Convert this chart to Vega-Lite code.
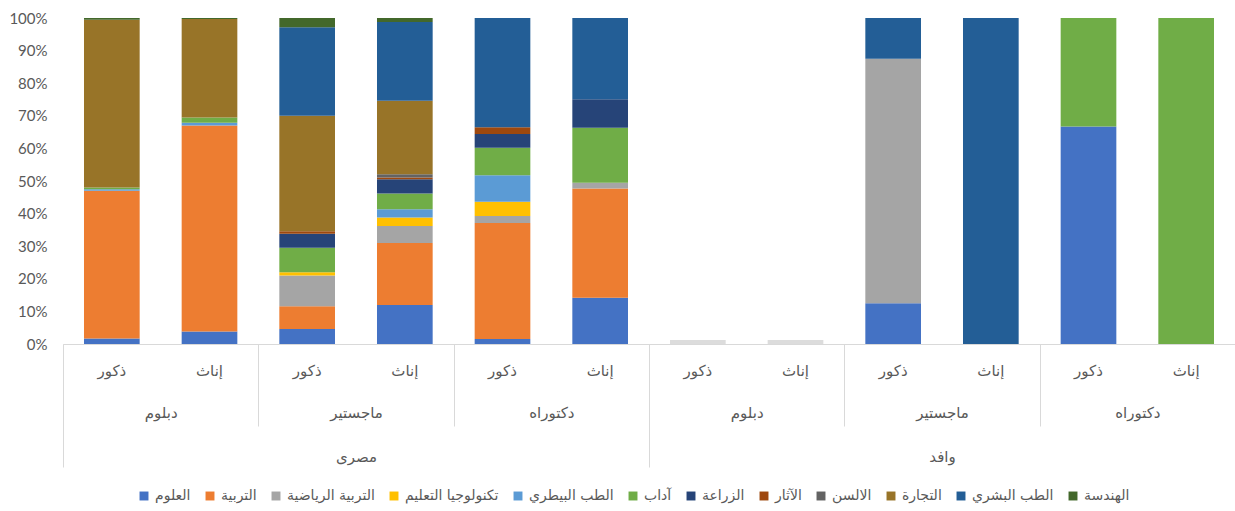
{
  "$schema": "https://vega.github.io/schema/vega-lite/v6.json",
  "width": 1172,
  "height": 326,
  "autosize": {"type": "none"},
  "padding": {"left": 63, "top": 18, "right": 0, "bottom": 167},
  "background": "white",
  "config": {"view": {"stroke": null}, "font": "DejaVu Sans"},
  "datasets": {
    "faculties": [
      {"f": "العلوم", "o": 1}, {"f": "التربية", "o": 2}, {"f": "التربية الرياضية", "o": 3},
      {"f": "تكنولوجيا التعليم", "o": 4}, {"f": "الطب البيطري", "o": 5}, {"f": "آداب", "o": 6},
      {"f": "الزراعة", "o": 7}, {"f": "الآثار", "o": 8}, {"f": "الالسن", "o": 9},
      {"f": "التجارة", "o": 10}, {"f": "الطب البشري", "o": 11}, {"f": "الهندسة", "o": 12}
    ]
  },
  "layer": [
    {
      "data": {"values": [
        {"col": "مصرى|دبلوم|ذكور", "f": "العلوم", "v": 1.7},
        {"col": "مصرى|دبلوم|ذكور", "f": "التربية", "v": 45.3},
        {"col": "مصرى|دبلوم|ذكور", "f": "الطب البيطري", "v": 0.5},
        {"col": "مصرى|دبلوم|ذكور", "f": "آداب", "v": 0.5},
        {"col": "مصرى|دبلوم|ذكور", "f": "التجارة", "v": 51.5},
        {"col": "مصرى|دبلوم|ذكور", "f": "الهندسة", "v": 0.5},
        {"col": "مصرى|دبلوم|إناث", "f": "العلوم", "v": 3.8},
        {"col": "مصرى|دبلوم|إناث", "f": "التربية", "v": 63.2},
        {"col": "مصرى|دبلوم|إناث", "f": "الطب البيطري", "v": 0.9},
        {"col": "مصرى|دبلوم|إناث", "f": "آداب", "v": 1.6},
        {"col": "مصرى|دبلوم|إناث", "f": "التجارة", "v": 30.2},
        {"col": "مصرى|دبلوم|إناث", "f": "الهندسة", "v": 0.3},
        {"col": "مصرى|ماجستير|ذكور", "f": "العلوم", "v": 4.6},
        {"col": "مصرى|ماجستير|ذكور", "f": "التربية", "v": 7.0},
        {"col": "مصرى|ماجستير|ذكور", "f": "التربية الرياضية", "v": 9.4},
        {"col": "مصرى|ماجستير|ذكور", "f": "تكنولوجيا التعليم", "v": 1.0},
        {"col": "مصرى|ماجستير|ذكور", "f": "آداب", "v": 7.5},
        {"col": "مصرى|ماجستير|ذكور", "f": "الزراعة", "v": 4.3},
        {"col": "مصرى|ماجستير|ذكور", "f": "الآثار", "v": 0.8},
        {"col": "مصرى|ماجستير|ذكور", "f": "التجارة", "v": 35.4},
        {"col": "مصرى|ماجستير|ذكور", "f": "الطب البشري", "v": 27.2},
        {"col": "مصرى|ماجستير|ذكور", "f": "الهندسة", "v": 2.8},
        {"col": "مصرى|ماجستير|إناث", "f": "العلوم", "v": 12.0},
        {"col": "مصرى|ماجستير|إناث", "f": "التربية", "v": 19.0},
        {"col": "مصرى|ماجستير|إناث", "f": "التربية الرياضية", "v": 5.2},
        {"col": "مصرى|ماجستير|إناث", "f": "تكنولوجيا التعليم", "v": 2.6},
        {"col": "مصرى|ماجستير|إناث", "f": "الطب البيطري", "v": 2.5},
        {"col": "مصرى|ماجستير|إناث", "f": "آداب", "v": 4.9},
        {"col": "مصرى|ماجستير|إناث", "f": "الزراعة", "v": 4.3},
        {"col": "مصرى|ماجستير|إناث", "f": "الآثار", "v": 0.6},
        {"col": "مصرى|ماجستير|إناث", "f": "الالسن", "v": 1.0},
        {"col": "مصرى|ماجستير|إناث", "f": "التجارة", "v": 22.5},
        {"col": "مصرى|ماجستير|إناث", "f": "الطب البشري", "v": 24.2},
        {"col": "مصرى|ماجستير|إناث", "f": "الهندسة", "v": 1.2},
        {"col": "مصرى|دكتوراه|ذكور", "f": "العلوم", "v": 1.5},
        {"col": "مصرى|دكتوراه|ذكور", "f": "التربية", "v": 35.6},
        {"col": "مصرى|دكتوراه|ذكور", "f": "التربية الرياضية", "v": 2.2},
        {"col": "مصرى|دكتوراه|ذكور", "f": "تكنولوجيا التعليم", "v": 4.3},
        {"col": "مصرى|دكتوراه|ذكور", "f": "الطب البيطري", "v": 8.2},
        {"col": "مصرى|دكتوراه|ذكور", "f": "آداب", "v": 8.4},
        {"col": "مصرى|دكتوراه|ذكور", "f": "الزراعة", "v": 4.2},
        {"col": "مصرى|دكتوراه|ذكور", "f": "الآثار", "v": 2.1},
        {"col": "مصرى|دكتوراه|ذكور", "f": "الطب البشري", "v": 33.5},
        {"col": "مصرى|دكتوراه|إناث", "f": "العلوم", "v": 14.2},
        {"col": "مصرى|دكتوراه|إناث", "f": "التربية", "v": 33.5},
        {"col": "مصرى|دكتوراه|إناث", "f": "التربية الرياضية", "v": 1.8},
        {"col": "مصرى|دكتوراه|إناث", "f": "آداب", "v": 16.8},
        {"col": "مصرى|دكتوراه|إناث", "f": "الزراعة", "v": 8.8},
        {"col": "مصرى|دكتوراه|إناث", "f": "الطب البشري", "v": 24.9},
        {"col": "وافد|ماجستير|ذكور", "f": "العلوم", "v": 12.5},
        {"col": "وافد|ماجستير|ذكور", "f": "التربية الرياضية", "v": 75.0},
        {"col": "وافد|ماجستير|ذكور", "f": "الطب البشري", "v": 12.5},
        {"col": "وافد|ماجستير|إناث", "f": "الطب البشري", "v": 100},
        {"col": "وافد|دكتوراه|ذكور", "f": "العلوم", "v": 66.7},
        {"col": "وافد|دكتوراه|ذكور", "f": "آداب", "v": 33.3},
        {"col": "وافد|دكتوراه|إناث", "f": "آداب", "v": 100}
      ]},
      "layer": [
        {
          "transform": [
            {"lookup": "f", "from": {"data": {"name": "faculties"}, "key": "f", "fields": ["o"]}}
          ],
          "mark": {"type": "bar"},
          "encoding": {
            "x": {
              "field": "col", "type": "nominal", "sort": null,
              "scale": {
                "domain": ["مصرى|دبلوم|ذكور", "مصرى|دبلوم|إناث", "مصرى|ماجستير|ذكور", "مصرى|ماجستير|إناث", "مصرى|دكتوراه|ذكور", "مصرى|دكتوراه|إناث", "وافد|دبلوم|ذكور", "وافد|دبلوم|إناث", "وافد|ماجستير|ذكور", "وافد|ماجستير|إناث", "وافد|دكتوراه|ذكور", "وافد|دكتوراه|إناث"],
                "paddingInner": 0.43, "paddingOuter": 0.215
              },
              "axis": {
                "orient": "bottom", "title": null, "labelExpr": "split(datum.label, '|')[2]",
                "labelAngle": 0, "ticks": false, "domain": true, "domainColor": "#d9d9d9",
                "labelPadding": 19, "labelFontSize": 15, "labelColor": "#595959", "labelFont": "DejaVu Sans"
              }
            },
            "y": {
              "field": "v", "type": "quantitative", "stack": "normalize",
              "axis": {
                "title": null, "format": "%", "values": [0, 0.1, 0.2, 0.3, 0.4, 0.5, 0.6, 0.7, 0.8, 0.9, 1],
                "grid": false, "domain": false, "ticks": false, "labelPadding": 16,
                "labelFontSize": 15, "labelColor": "#595959", "labelFont": "Lato"
              }
            },
            "order": {"field": "o", "type": "quantitative", "sort": "ascending"},
            "color": {
              "field": "f", "type": "nominal",
              "scale": {
                "domain": ["العلوم", "التربية", "التربية الرياضية", "تكنولوجيا التعليم", "الطب البيطري", "آداب", "الزراعة", "الآثار", "الالسن", "التجارة", "الطب البشري", "الهندسة"],
                "range": ["#4472C4", "#ED7D31", "#A5A5A5", "#FFC000", "#5B9BD5", "#70AD47", "#264478", "#9E480E", "#636363", "#987428", "#235E96", "#43682B"]
              },
              "legend": {
                "orient": "none", "legendX": 74, "legendY": 471,
                "direction": "horizontal", "columns": 12, "title": null,
                "symbolType": "square", "symbolSize": 80, "symbolStrokeWidth": 0,
                "labelFontSize": 14, "labelColor": "#595959", "labelFont": "DejaVu Sans",
                "columnPadding": 12
              }
            }
          }
        },
        {
          "data": {"values": [
            {"col": "وافد|دبلوم|ذكور", "h": 1.2},
            {"col": "وافد|دبلوم|إناث", "h": 1.2}
          ]},
          "mark": {"type": "bar", "color": "#dcdcdc"},
          "encoding": {
            "x": {
              "field": "col", "type": "nominal", "sort": null,
              "scale": {
                "domain": ["مصرى|دبلوم|ذكور", "مصرى|دبلوم|إناث", "مصرى|ماجستير|ذكور", "مصرى|ماجستير|إناث", "مصرى|دكتوراه|ذكور", "مصرى|دكتوراه|إناث", "وافد|دبلوم|ذكور", "وافد|دبلوم|إناث", "وافد|ماجستير|ذكور", "وافد|ماجستير|إناث", "وافد|دكتوراه|ذكور", "وافد|دكتوراه|إناث"],
                "paddingInner": 0.43, "paddingOuter": 0.215
              }
            },
            "y": {"field": "h", "type": "quantitative", "scale": {"domain": [0, 100]}, "axis": null}
          }
        }
      ],
      "resolve": {"scale": {"y": "independent"}, "axis": {"y": "independent"}}
    },
    {
      "data": {"values": [
        {"g": "مصرى|دبلوم"}, {"g": "مصرى|ماجستير"}, {"g": "مصرى|دكتوراه"},
        {"g": "وافد|دبلوم"}, {"g": "وافد|ماجستير"}, {"g": "وافد|دكتوراه"}
      ]},
      "mark": {"type": "bar", "opacity": 0},
      "encoding": {
        "x": {
          "field": "g", "type": "nominal", "sort": null,
          "scale": {"type": "band", "paddingInner": 0, "paddingOuter": 0},
          "axis": {
            "orient": "bottom", "title": null, "labelExpr": "split(datum.label, '|')[1]",
            "labelAngle": 0, "domain": false, "ticks": true, "tickBand": "extent",
            "tickSize": 82, "tickColor": "#d9d9d9", "labelPadding": -21,
            "labelFontSize": 15, "labelColor": "#595959", "labelFont": "DejaVu Sans"
          }
        }
      }
    },
    {
      "data": {"values": [{"n": "مصرى"}, {"n": "وافد"}]},
      "mark": {"type": "bar", "opacity": 0},
      "encoding": {
        "x": {
          "field": "n", "type": "nominal", "sort": null,
          "scale": {"type": "band", "paddingInner": 0, "paddingOuter": 0},
          "axis": {
            "orient": "bottom", "title": null, "labelAngle": 0, "domain": false,
            "ticks": true, "tickBand": "extent", "tickSize": 123, "tickColor": "#d9d9d9",
            "labelPadding": -18, "labelFontSize": 15, "labelColor": "#595959", "labelFont": "DejaVu Sans"
          }
        }
      }
    }
  ],
  "resolve": {"scale": {"x": "independent"}, "axis": {"x": "independent"}}
}
